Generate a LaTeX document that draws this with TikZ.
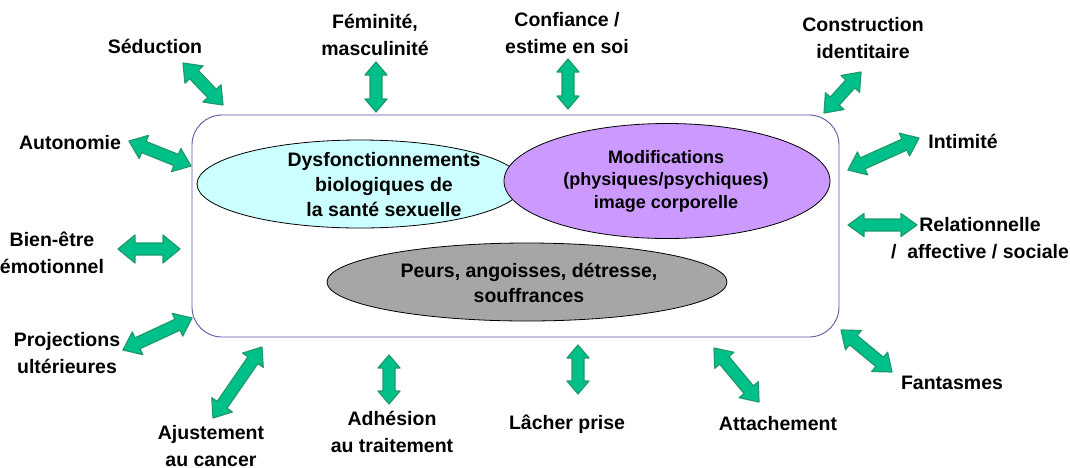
\documentclass[tikz,border=0pt]{standalone}
\usepackage{fontspec}
\setmainfont{Liberation Sans}
\usetikzlibrary{calc,shapes.geometric}
\definecolor{gfill}{HTML}{00C089}
\definecolor{gline}{HTML}{1F9A6C}
\definecolor{rectline}{HTML}{5A5AA8}
\definecolor{cyanfill}{HTML}{CCFFFF}
\definecolor{purplefill}{HTML}{CC99FF}
\definecolor{grayfill}{HTML}{A6A6A6}
\newdimen\gax \newdimen\gay \newdimen\gbx \newdimen\gby
\newcommand\garrow[4]{%
 \pgfextractx{\gax}{\pgfpointanchor{#1}{center}}%
 \pgfextracty{\gay}{\pgfpointanchor{#1}{center}}%
 \pgfextractx{\gbx}{\pgfpointanchor{#2}{center}}%
 \pgfextracty{\gby}{\pgfpointanchor{#2}{center}}%
 \pgfmathsetmacro\gang{atan2(\gby-\gay,\gbx-\gax)}%
 \pgfmathsetmacro\glen{veclen(\gbx-\gax,\gby-\gay)}%
 \pgfmathsetmacro\glh{\glen-#4}%
 \draw[garrowsty, shift={(#1)}, rotate=\gang] (0,0) -- (#4,#3) -- (#4,6) -- (\glh,6) -- (\glh,#3) -- (\glen,0) -- (\glh,-#3) -- (\glh,-6) -- (#4,-6) -- (#4,-#3) -- cycle;
}
\tikzset{
 garrowsty/.style={fill=gfill, draw=gline, line width=1.2pt, line join=round},
 lbl/.style={font=\fontsize{19.5}{27}\selectfont\bfseries, align=center, inner sep=0pt},
 ell/.style={draw=black, line width=0.8pt},
 etxt/.style={font=\fontsize{19.5}{25}\selectfont\bfseries, align=center, inner sep=0pt},
}
\begin{document}
\begin{tikzpicture}[x=1pt,y=-1pt]
\useasboundingbox[fill=white] (0,0) rectangle (1070,467);
% main box
\draw[rectline, line width=0.9pt, rounded corners=30pt] (192,115) rectangle (839,337);
% ellipses
\node[ell, fill=cyanfill, ellipse, minimum width=326pt, minimum height=88pt, inner sep=0pt] (bio) at (360,184) {};
\node[ell, fill=purplefill, ellipse, minimum width=326pt, minimum height=115pt, inner sep=0pt] (mod) at (667,181) {};
\node[ell, fill=grayfill, ellipse, minimum width=400pt, minimum height=78pt, inner sep=0pt] (peur) at (527,282) {};
\node[etxt] (biot) at (384,185) {Dysfonctionnements\\biologiques de\\la santé sexuelle};
\node[etxt, font=\fontsize{18}{22.5}\selectfont\bfseries] (modt) at (666,181) {Modifications\\(physiques/psychiques)\\image corporelle};
\node[etxt] (peurt) at (529,283) {Peurs, angoisses, détresse,\\souffrances};
% labels
\node[lbl] (sed) at (155,46) {Séduction};
\node[lbl] (fem) at (375,35) {Féminité,\\masculinité};
\node[lbl] (con) at (567,33) {Confiance /\\estime en soi};
\node[lbl] (cst) at (863,38) {Construction\\identitaire};
\node[lbl] (aut) at (70,143) {Autonomie};
\node[lbl] (int) at (963,141) {Intimité};
\node[lbl] (bie) at (52,253) {Bien-être\\émotionnel};
\node[lbl] (rel) at (980,238) {Relationnelle\\/\ \ affective / sociale};
\node[lbl] (pro) at (67,353) {Projections\\ultérieures};
\node[lbl] (fan) at (952,383) {Fantasmes};
\node[lbl] (aju) at (211,446) {Ajustement\\au cancer};
\node[lbl] (adh) at (392,432) {Adhésion\\au traitement};
\node[lbl] (lac) at (567,424) {Lâcher prise};
\node[lbl] (att) at (778,424) {Attachement};
% arrow end points
\coordinate (sedA) at (183,63);  \coordinate (sedB) at (223,105);
\coordinate (femA) at (376,62);  \coordinate (femB) at (376,112);
\coordinate (conA) at (568,59);  \coordinate (conB) at (568,109);
\coordinate (cstA) at (861,72);  \coordinate (cstB) at (824,113);
\coordinate (autA) at (129,141); \coordinate (autB) at (191,166);
\coordinate (intA) at (919,138); \coordinate (intB) at (848,170);
\coordinate (bieA) at (118,249); \coordinate (bieB) at (180,249);
\coordinate (relA) at (848,225); \coordinate (relB) at (917,225);
\coordinate (proA) at (123,350); \coordinate (proB) at (192,318);
\coordinate (fanA) at (841,330); \coordinate (fanB) at (892,372);
\coordinate (ajuA) at (262,347); \coordinate (ajuB) at (213,418);
\coordinate (adhA) at (389,355); \coordinate (adhB) at (389,404);
\coordinate (lacA) at (578,345); \coordinate (lacB) at (578,394);
\coordinate (attA) at (714,348); \coordinate (attB) at (759,402);
\garrow{sedA}{sedB}{12.5}{16}
\garrow{femA}{femB}{11}{13}
\garrow{conA}{conB}{11}{13}
\garrow{cstA}{cstB}{12.5}{16}
\garrow{autA}{autB}{12.5}{16}
\garrow{intA}{intB}{12.5}{16}
\garrow{bieA}{bieB}{14}{17}
\garrow{relA}{relB}{11.5}{16}
\garrow{proA}{proB}{12.5}{16}
\garrow{fanA}{fanB}{12.5}{16}
\garrow{ajuA}{ajuB}{12.5}{16}
\garrow{adhA}{adhB}{11}{13}
\garrow{lacA}{lacB}{11}{13}
\garrow{attA}{attB}{12.5}{16}
\end{tikzpicture}
\end{document}
